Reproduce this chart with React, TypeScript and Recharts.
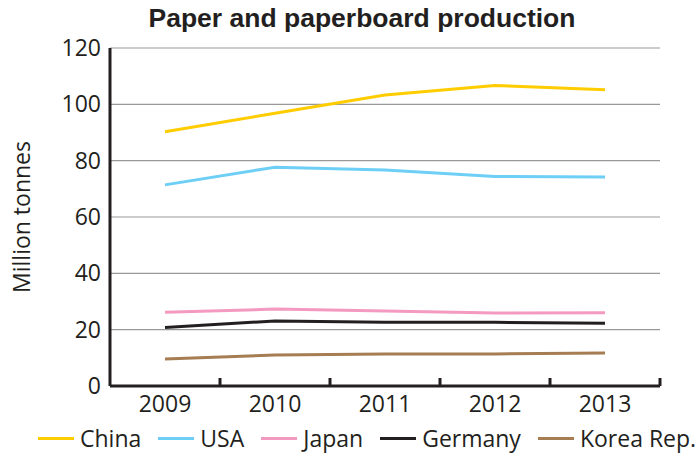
import React from 'react';
import { LineChart, Line, XAxis, YAxis, CartesianGrid, Legend } from 'recharts';

const years = [2009, 2010, 2011, 2012, 2013];
const china = [90.3, 96.8, 103.3, 106.7, 105.2];
const usa = [71.4, 77.7, 76.7, 74.4, 74.2];
const japan = [26.2, 27.3, 26.6, 25.9, 26.0];
const germany = [20.8, 23.1, 22.6, 22.6, 22.3];
const korea = [9.6, 11.0, 11.4, 11.4, 11.7];
const yTicks = [0, 20, 40, 60, 80, 100, 120];
const boundaryTicks = [2009.5, 2010.5, 2011.5, 2012.5, 2013.5];
const xTicks = [...years, ...boundaryTicks].sort((a, b) => a - b);

const series = [
  { key: 'china', name: 'China', color: '#FFCC00', values: china },
  { key: 'usa', name: 'USA', color: '#6DCFF6', values: usa },
  { key: 'japan', name: 'Japan', color: '#F49AC1', values: japan },
  { key: 'germany', name: 'Germany', color: '#231F20', values: germany },
  { key: 'korea', name: 'Korea Rep.', color: '#A67C52', values: korea },
];

const data = years.map((year, i) => {
  const row: Record<string, number> = { year };
  series.forEach((s) => {
    row[s.key] = s.values[i];
  });
  return row;
});

const FONT = '"Open Sans", sans-serif';
const TEXT = '#231F20';

const XTick = (props: any) => {
  const { x, y, payload } = props;
  const v = payload.value as number;
  if (Number.isInteger(v)) {
    return (
      <text x={x} y={y + 26} textAnchor="middle" fontFamily={FONT} fontSize={23} fill={TEXT}>
        {String(v)}
      </text>
    );
  }
  return <line x1={x} x2={x} y1={y} y2={y - 8} stroke={TEXT} strokeWidth={3} />;
};

const LegendContent = () => (
  <div
    style={{
      display: 'flex',
      alignItems: 'center',
      fontFamily: FONT,
      fontSize: 23,
      color: TEXT,
      height: 30,
      width: 720,
      whiteSpace: 'nowrap',
    }}
  >
    {series.map((s, i) => (
      <div
        key={s.key}
        style={{ display: 'flex', alignItems: 'center', flexShrink: 0, marginLeft: i === 0 ? 38 : 17 }}
      >
        <div style={{ width: 36, height: 3, background: s.color, marginRight: 6, flexShrink: 0 }} />
        <span>{s.name}</span>
      </div>
    ))}
  </div>
);

export default function App() {
  return (
    <div style={{ position: 'absolute', left: 0, top: 0, width: 696, height: 456, background: '#fff', overflow: 'hidden' }}>
      <div
        style={{
          position: 'absolute',
          left: 0,
          top: 3,
          width: 724,
          textAlign: 'center',
          fontFamily: '"Liberation Sans", Arial, sans-serif',
          fontWeight: 'bold',
          fontSize: 26.5,
          color: TEXT,
          zIndex: 2,
        }}
      >
        Paper and paperboard production
      </div>
      <LineChart width={696} height={456} data={data} margin={{ top: 48, right: 36, left: 0, bottom: 10 }}>
        <CartesianGrid horizontal vertical={false} stroke="#999" strokeWidth={1.2} />
        <XAxis
          dataKey="year"
          type="number"
          domain={[2008.5, 2013.5]}
          ticks={xTicks}
          interval={0}
          tickLine={false}
          tickSize={0}
          tickMargin={0}
          height={30}
          axisLine={{ stroke: TEXT, strokeWidth: 3 }}
          tick={<XTick />}
        />
        <YAxis
          type="number"
          domain={[0, 120]}
          ticks={yTicks}
          width={110}
          tickLine={false}
          tickSize={0}
          tickMargin={9}
          axisLine={{ stroke: TEXT, strokeWidth: 3 }}
          tick={{ fontFamily: FONT, fontSize: 23, fill: TEXT }}
          label={{
            value: 'Million tonnes',
            angle: -90,
            position: 'insideLeft',
            offset: 22,
            style: { textAnchor: 'middle', fontFamily: FONT, fontSize: 23, fill: TEXT },
          }}
        />
        <Legend
          verticalAlign="bottom"
          content={() => <LegendContent />}
          wrapperStyle={{ position: 'absolute', top: 423, left: 0, bottom: 'auto', width: 696, height: 30 }}
        />
        {series.map((s) => (
          <Line
            key={s.key}
            type="linear"
            dataKey={s.key}
            name={s.name}
            stroke={s.color}
            strokeWidth={3}
            dot={false}
            activeDot={false}
            isAnimationActive={false}
          />
        ))}
      </LineChart>
    </div>
  );
}
